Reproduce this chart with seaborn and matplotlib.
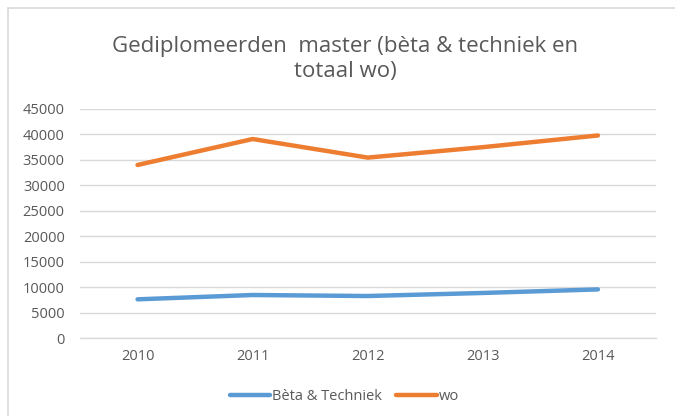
import matplotlib
matplotlib.use("Agg")
import matplotlib.pyplot as plt
from matplotlib.lines import Line2D
import seaborn as sns
import pandas as pd

years = [2010, 2011, 2012, 2013, 2014]
beta_techniek = [7600, 8450, 8250, 8850, 9550]
wo = [34000, 39100, 35450, 37500, 39800]
series_names = ["Bèta & Techniek", "wo"]
colors = ["#5B9BD5", "#ED7D31"]
yticks = list(range(0, 45001, 5000))
title = "Gediplomeerden  master (bèta & techniek en\ntotaal wo)"

df = pd.DataFrame({
    "year": years * 2,
    "value": beta_techniek + wo,
    "series": [series_names[0]] * len(years) + [series_names[1]] * len(years),
})

sns.set_theme(style="white")
plt.rcParams["font.family"] = ["Open Sans", "DejaVu Sans"]

fig = plt.figure(figsize=(6.75, 4.16), dpi=100)
ax = fig.add_axes([80 / 675, 1 - 338 / 416, 575.5 / 675, 229 / 416])

sns.lineplot(data=df, x="year", y="value", hue="series", palette=colors,
             linewidth=3.2, ax=ax, legend=False, solid_capstyle="round")

ax.set_xlim(2009.5, 2014.5)
ax.set_ylim(0, 45000)
ax.set_yticks(yticks)
ax.set_xticks(years)
ax.set_xticklabels([str(y) for y in years])
ax.yaxis.grid(True, color="#D9D9D9", linewidth=1.0)
ax.set_axisbelow(True)
for s in ["top", "right", "left"]:
    ax.spines[s].set_visible(False)
ax.spines["bottom"].set_color("#D9D9D9")
ax.spines["bottom"].set_linewidth(1.0)
ax.tick_params(axis="both", length=0, labelsize=10.5, colors="#595959")
ax.tick_params(axis="y", pad=11)
ax.tick_params(axis="x", pad=8)
ax.set_xlabel("")
ax.set_ylabel("")

fig.text(0.511, 1 - 59 / 416, title, ha="center", va="center",
         fontsize=16, color="#595959", linespacing=1.25)

handles = [Line2D([0], [0], color=c, linewidth=3.2, solid_capstyle="round") for c in colors]
fig.legend(handles, series_names, loc="center", bbox_to_anchor=(0.51, 1 - 397 / 416),
           ncol=2, frameon=False, fontsize=10.5, labelcolor="#595959",
           handlelength=2.8, handletextpad=0.1, columnspacing=1.0)

# chart frame edges
fig.add_artist(Line2D([8 / 675, 1], [1 - 8 / 416, 1 - 8 / 416], color="#D9D9D9", linewidth=1.2))
fig.add_artist(Line2D([8 / 675, 8 / 675], [0, 1 - 8 / 416], color="#D9D9D9", linewidth=1.2))

fig.savefig("out.png", dpi=100)
